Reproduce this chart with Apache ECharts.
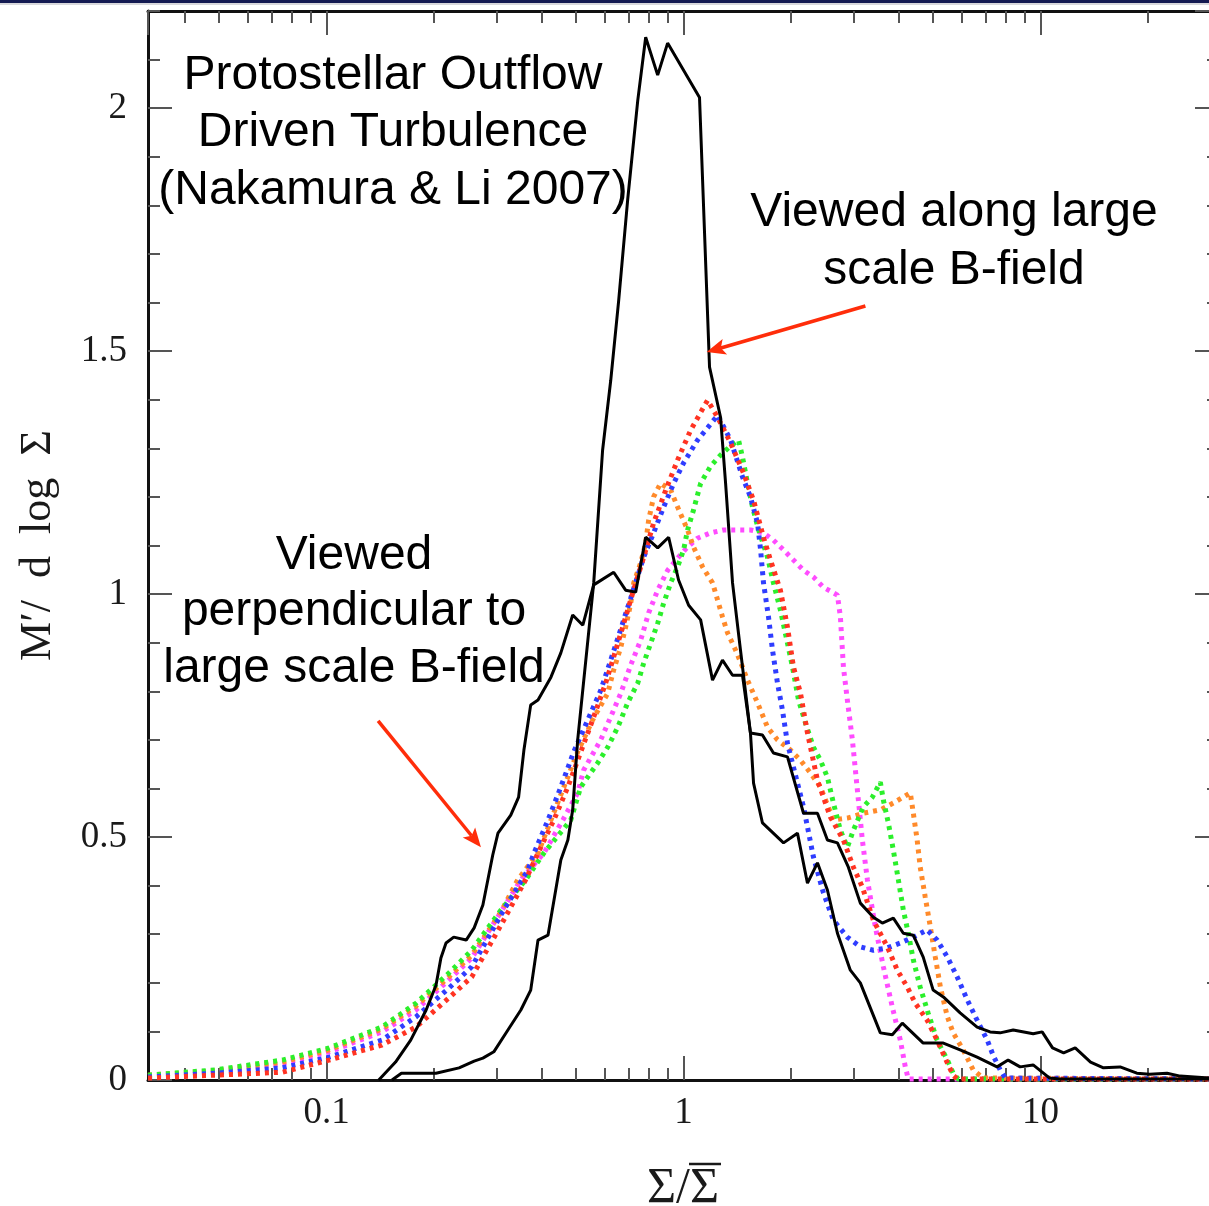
<!DOCTYPE html>
<html><head><meta charset="utf-8">
<script src="https://cdn.jsdelivr.net/npm/echarts@6/dist/echarts.min.js"></script>
<style>html,body{margin:0;padding:0;background:#fff}#c{width:1209px;height:1206px}</style>
</head><body><div id="c"></div>
<script>
// ---------- axis ranges & tick labels ----------
const X_MIN = 0.0316, X_MAX = 31.6;
const X_MAJOR_TICKS = [0.1, 1, 10];
const X_TICK_LABELS = ['0.1', '1', '10'];
const X_MINOR_TICKS = [0.04,0.05,0.06,0.07,0.08,0.09,0.2,0.3,0.4,0.5,0.6,0.7,0.8,0.9,2,3,4,5,6,7,8,9,20,30];
const Y_MIN = 0, Y_MAX = 2.2;
const Y_TICK_LABELS = ['0', '0.5', '1', '1.5', '2'];
const X_TITLE = 'Σ/Σ';
const Y_TITLE = 'M\u2032/  d  log  Σ';

// ---------- series values [Σ/Σ̄, M'/dlogΣ] ----------
const BLACK_NARROW = [[0.1525,0],[0.162,0.014],[0.2025,0.014],[0.235,0.025],[0.259,0.039],[0.274,0.045],[0.294,0.058],[0.322,0.103],[0.350,0.144],[0.373,0.185],[0.391,0.288],[0.417,0.298],[0.453,0.453],[0.474,0.494],[0.489,0.556],[0.505,0.700],[0.560,1.023],[0.593,1.296],[0.625,1.440],[0.658,1.605],[0.697,1.811],[0.744,2.016],[0.783,2.146],[0.846,2.068],[0.902,2.134],[1.108,2.022],[1.182,1.467],[1.269,1.364],[1.311,1.228],[1.371,1.023],[1.443,0.885],[1.539,0.714],[1.570,0.611],[1.663,0.529],[1.905,0.488],[2.084,0.508],[2.223,0.405],[2.371,0.447],[2.528,0.391],[2.697,0.302],[2.931,0.226],[3.126,0.200],[3.557,0.097],[3.843,0.093],[4.098,0.117],[4.69,0.076],[5.34,0.076],[5.95,0.062],[6.64,0.047],[7.55,0.027],[8.11,0.041],[8.76,0.027],[9.53,0.031],[10.6,0.004],[11.3,0.002],[31.6,0.002]];
const BLACK_WIDE = [[0.140,0],[0.156,0.037],[0.172,0.082],[0.190,0.144],[0.2025,0.195],[0.209,0.251],[0.216,0.282],[0.227,0.294],[0.246,0.288],[0.259,0.313],[0.274,0.360],[0.292,0.463],[0.302,0.508],[0.328,0.545],[0.345,0.582],[0.357,0.679],[0.373,0.772],[0.391,0.782],[0.425,0.829],[0.453,0.879],[0.489,0.957],[0.522,0.936],[0.560,1.019],[0.637,1.045],[0.688,1.008],[0.734,1.004],[0.783,1.117],[0.846,1.095],[0.908,1.117],[0.968,1.029],[1.033,0.977],[1.116,0.947],[1.205,0.823],[1.285,0.864],[1.371,0.833],[1.462,0.833],[1.539,0.714],[1.663,0.710],[1.785,0.673],[1.954,0.665],[2.167,0.549],[2.371,0.549],[2.528,0.494],[2.697,0.488],[2.894,0.438],[3.126,0.364],[3.400,0.335],[3.603,0.323],[3.868,0.333],[4.125,0.302],[4.400,0.298],[4.69,0.253],[5.00,0.185],[5.34,0.171],[5.95,0.138],[6.64,0.109],[7.22,0.099],[7.70,0.097],[8.38,0.103],[9.53,0.095],[10.1,0.099],[10.8,0.066],[11.6,0.056],[12.5,0.066],[13.8,0.037],[15.0,0.025],[16.7,0.027],[18.6,0.014],[20.2,0.012],[22.6,0.014],[24.6,0.008],[29.6,0.004],[31.6,0.004]];
const RED = [[0.0316,0.004],[0.0491,0.010],[0.0751,0.016],[0.1016,0.041],[0.1429,0.072],[0.178,0.109],[0.220,0.169],[0.255,0.212],[0.308,0.319],[0.361,0.412],[0.391,0.467],[0.433,0.535],[0.474,0.603],[0.515,0.675],[0.556,0.741],[0.605,0.817],[0.633,0.864],[0.675,0.932],[0.720,1.002],[0.773,1.076],[0.824,1.146],[0.891,1.214],[0.962,1.276],[1.046,1.337],[1.167,1.399],[1.245,1.364],[1.354,1.311],[1.472,1.249],[1.570,1.193],[1.674,1.117],[1.751,1.070],[1.867,1.008],[1.954,0.932],[2.031,0.850],[2.125,0.796],[2.223,0.714],[2.371,0.617],[2.577,0.541],[2.803,0.494],[2.989,0.438],[3.167,0.397],[3.400,0.329],[3.721,0.274],[3.969,0.226],[4.233,0.191],[4.457,0.158],[4.81,0.123],[5.13,0.082],[5.48,0.035],[5.69,0.010],[5.84,0.002],[31.6,0.002]];
const BLUE = [[0.0316,0.006],[0.0491,0.014],[0.0751,0.025],[0.1016,0.047],[0.1429,0.082],[0.178,0.130],[0.220,0.189],[0.255,0.233],[0.308,0.340],[0.366,0.432],[0.381,0.467],[0.417,0.535],[0.453,0.603],[0.492,0.675],[0.539,0.741],[0.586,0.802],[0.645,0.895],[0.711,0.992],[0.773,1.076],[0.824,1.126],[0.879,1.179],[0.938,1.228],[1.000,1.270],[1.094,1.317],[1.167,1.342],[1.245,1.368],[1.354,1.317],[1.462,1.241],[1.539,1.200],[1.611,1.146],[1.643,1.091],[1.674,1.023],[1.729,0.953],[1.774,0.885],[1.832,0.817],[1.892,0.761],[1.954,0.693],[2.084,0.611],[2.167,0.562],[2.310,0.459],[2.464,0.385],[2.628,0.329],[2.875,0.294],[3.126,0.274],[3.400,0.267],[3.721,0.272],[4.046,0.282],[4.400,0.294],[4.81,0.309],[5.13,0.288],[5.48,0.253],[5.84,0.212],[6.23,0.165],[6.64,0.123],[7.09,0.082],[7.36,0.051],[7.70,0.021],[7.96,0.004],[31.6,0.002]];
const GREEN = [[0.0316,0.010],[0.0491,0.021],[0.0751,0.041],[0.1016,0.066],[0.1429,0.109],[0.178,0.158],[0.220,0.220],[0.255,0.267],[0.308,0.350],[0.361,0.412],[0.406,0.467],[0.483,0.535],[0.515,0.603],[0.574,0.652],[0.613,0.685],[0.654,0.726],[0.697,0.776],[0.744,0.817],[0.773,0.858],[0.809,0.899],[0.846,0.940],[0.879,0.981],[0.920,1.023],[0.962,1.056],[1.000,1.091],[1.026,1.132],[1.066,1.173],[1.116,1.228],[1.190,1.263],[1.269,1.286],[1.354,1.305],[1.425,1.317],[1.462,1.282],[1.510,1.228],[1.560,1.179],[1.622,1.132],[1.718,1.076],[1.785,1.023],[1.867,0.967],[1.954,0.899],[2.018,0.850],[2.098,0.782],[2.194,0.735],[2.310,0.685],[2.417,0.658],[2.528,0.623],[2.628,0.570],[2.749,0.514],[2.875,0.479],[2.989,0.514],[3.187,0.562],[3.378,0.582],[3.557,0.613],[3.627,0.576],[3.745,0.529],[3.868,0.473],[3.995,0.412],[4.125,0.350],[4.26,0.302],[4.40,0.247],[4.60,0.191],[4.84,0.138],[5.13,0.082],[5.48,0.041],[5.69,0.014],[5.88,0.002],[31.6,0.002]];
const ORANGE = [[0.0316,0.010],[0.0491,0.019],[0.0751,0.037],[0.1016,0.062],[0.1429,0.105],[0.178,0.152],[0.220,0.212],[0.255,0.257],[0.308,0.346],[0.343,0.412],[0.391,0.467],[0.425,0.535],[0.462,0.603],[0.505,0.675],[0.556,0.741],[0.613,0.796],[0.637,0.844],[0.667,0.891],[0.688,0.932],[0.711,0.981],[0.725,1.023],[0.758,1.064],[0.783,1.105],[0.798,1.152],[0.824,1.200],[0.862,1.228],[0.920,1.214],[0.962,1.179],[1.026,1.132],[1.066,1.097],[1.130,1.056],[1.205,1.023],[1.245,0.988],[1.285,0.953],[1.328,0.920],[1.398,0.885],[1.462,0.850],[1.510,0.823],[1.611,0.776],[1.718,0.726],[1.832,0.700],[1.992,0.679],[2.125,0.658],[2.266,0.632],[2.417,0.603],[2.628,0.535],[2.875,0.539],[3.187,0.549],[3.557,0.556],[3.868,0.570],[4.315,0.591],[4.400,0.549],[4.51,0.494],[4.60,0.438],[4.75,0.377],[4.91,0.315],[5.07,0.253],[5.24,0.191],[5.48,0.130],[5.69,0.097],[6.07,0.062],[6.47,0.021],[6.90,0.004],[31.6,0.002]];
const MAGENTA = [[0.0316,0.008],[0.0491,0.016],[0.0751,0.033],[0.1016,0.058],[0.1429,0.099],[0.178,0.144],[0.220,0.206],[0.255,0.251],[0.308,0.346],[0.350,0.412],[0.406,0.467],[0.459,0.535],[0.505,0.591],[0.525,0.638],[0.586,0.700],[0.633,0.757],[0.667,0.796],[0.711,0.854],[0.758,0.905],[0.798,0.961],[0.846,1.008],[0.902,1.049],[0.968,1.076],[1.026,1.097],[1.094,1.115],[1.190,1.126],[1.294,1.132],[1.416,1.132],[1.539,1.132],[1.674,1.126],[1.785,1.111],[1.905,1.091],[2.031,1.070],[2.167,1.049],[2.310,1.035],[2.464,1.014],[2.697,0.998],[2.749,0.953],[2.803,0.850],[2.875,0.782],[2.970,0.700],[3.067,0.597],[3.167,0.494],[3.272,0.412],[3.444,0.315],[3.627,0.233],[3.843,0.150],[4.046,0.082],[4.178,0.027],[4.26,0.002],[31.6,0.002]];

// ---------- annotations ----------
const NOTES = [
  {text: 'Protostellar Outflow\nDriven Turbulence\n(Nakamura & Li 2007)', x: 393, y: 133, lh: 57.5},
  {text: 'Viewed along large\nscale B-field', x: 954, y: 242, lh: 58},
  {text: 'Viewed\nperpendicular to\nlarge scale B-field', x: 354, y: 612, lh: 56.5}
];
// arrows in data units: [from, to]
const ARROWS = [
  [[3.23, 1.593], [1.16, 1.498]],
  [[0.1394, 0.739], [0.2706, 0.479]]
];

const AXIS_COLOR = '#111', TICK_COLOR = '#555';
const serif = '"Liberation Serif", "DejaVu Serif", serif';

const chart = echarts.init(document.getElementById('c'));

function xLabel(v) {
  for (let i = 0; i < X_MAJOR_TICKS.length; i++) {
    if (Math.abs(v / X_MAJOR_TICKS[i] - 1) < 1e-6) return X_TICK_LABELS[i];
  }
  return '';
}
function yLabel(v) {
  const i = Math.round(v / 0.5);
  if (Math.abs(v - i * 0.5) < 1e-6 && i >= 0 && i < Y_TICK_LABELS.length) return Y_TICK_LABELS[i];
  return '';
}

const logMajor = (pos, labels) => ({
  type: 'log', logBase: 10, min: X_MIN, max: X_MAX, position: pos,
  axisLine: {show: true, onZero: false, lineStyle: {color: AXIS_COLOR, width: 3}},
  axisTick: {show: true, inside: true, length: 24, lineStyle: {color: TICK_COLOR, width: 2}},
  axisLabel: labels ? {show: true, formatter: xLabel, margin: 15, fontFamily: serif, fontSize: 37, color: '#1a1a1a', showMinLabel: false, showMaxLabel: false} : {show: false},
  splitLine: {show: false}, minorTick: {show: false}
});
const logMinor = (pos) => ({
  type: 'value', min: Math.log10(X_MIN), max: Math.log10(X_MAX), position: pos,
  axisLine: {show: false, onZero: false},
  axisTick: {show: true, inside: true, length: 12, lineStyle: {color: TICK_COLOR, width: 2},
             customValues: X_MINOR_TICKS.map(v => Math.log10(v))},
  axisLabel: {show: false}, splitLine: {show: false}
});
const yMajor = (pos, labels) => ({
  type: 'value', min: Y_MIN, max: Y_MAX, interval: 0.5, position: pos,
  axisLine: {show: true, onZero: false, lineStyle: {color: AXIS_COLOR, width: 3}},
  axisTick: {show: true, inside: true, length: 24, lineStyle: {color: TICK_COLOR, width: 2}},
  axisLabel: labels ? {show: true, formatter: yLabel, margin: 21, fontFamily: serif, fontSize: 37, color: '#1a1a1a', showMaxLabel: false} : {show: false},
  splitLine: {show: false}
});
const yMinor = (pos) => ({
  type: 'value', min: Y_MIN, max: Y_MAX, interval: 0.1, position: pos,
  axisLine: {show: false, onZero: false},
  axisTick: {show: true, inside: true, length: 12, lineStyle: {color: TICK_COLOR, width: 2}},
  axisLabel: {show: false}, splitLine: {show: false}
});

const xAxes = [logMajor('bottom', true), logMajor('top', false), logMinor('bottom'), logMinor('top')];
const yAxes = [yMajor('left', true), yMinor('left'), yMajor('right', false), yMinor('right')];
Object.assign(yAxes[0], {name: Y_TITLE, nameLocation: 'middle', nameGap: 88, nameRotate: 90,
  nameTextStyle: {fontFamily: serif, fontSize: 44, color: '#1a1a1a'}});

const dotted = (name, data, color) => ({
  type: 'line', name, data, xAxisIndex: 0, yAxisIndex: 0, showSymbol: false, symbol: 'none',
  silent: true, z: 2, lineStyle: {color, width: 5, type: [4, 5], cap: 'butt'}
});
const solid = (name, data) => ({
  type: 'line', name, data, xAxisIndex: 0, yAxisIndex: 0, showSymbol: false, symbol: 'none',
  silent: true, z: 3, lineStyle: {color: '#000', width: 3}
});

chart.setOption({
  animation: false,
  backgroundColor: '#fff',
  grid: {left: 148, top: 11, width: 1071, height: 1069, containLabel: false, outerBoundsMode: 'none'},
  xAxis: xAxes,
  yAxis: yAxes,
  series: [
    dotted('magenta', MAGENTA, '#ff4cff'),
    dotted('orange', ORANGE, '#ff8a2a'),
    dotted('green', GREEN, '#2bef2b'),
    dotted('blue', BLUE, '#2f3dff'),
    dotted('red', RED, '#ff3322'),
    solid('wide', BLACK_WIDE),
    solid('narrow', BLACK_NARROW)
  ]
});

// annotations, axis title and arrows
const elements = [
  {type: 'rect', shape: {x: 0, y: 0, width: 1209, height: 3}, style: {fill: '#141a52'}, z: 10},
  {type: 'rect', shape: {x: 0, y: 3, width: 1209, height: 2}, style: {fill: '#d8d8dc'}, z: 10},
  {type: 'text', x: 683, y: 1189, z: 10,
   style: {text: X_TITLE, fill: '#1a1a1a', fontSize: 50, fontFamily: serif, align: 'center', verticalAlign: 'middle'}},
  {type: 'line', z: 10, shape: {x1: 689, y1: 1164, x2: 721, y2: 1164}, style: {stroke: '#1a1a1a', lineWidth: 2.5}}
];
NOTES.forEach(n => elements.push({
  type: 'text', x: n.x, y: n.y, z: 10,
  style: {text: n.text, fill: '#000', fontSize: 48, fontFamily: '"Liberation Sans", Arial, sans-serif',
          align: 'center', verticalAlign: 'middle', lineHeight: n.lh}
}));
ARROWS.forEach(a => {
  const p0 = chart.convertToPixel({xAxisIndex: 0, yAxisIndex: 0}, a[0]);
  const p1 = chart.convertToPixel({xAxisIndex: 0, yAxisIndex: 0}, a[1]);
  const dx = p1[0] - p0[0], dy = p1[1] - p0[1];
  const len = Math.hypot(dx, dy), ux = dx / len, uy = dy / len, px = -uy, py = ux;
  const L = 19, W = 8;
  const bx = p1[0] - ux * L, by = p1[1] - uy * L;
  const nx = p1[0] - ux * L * 0.78, ny = p1[1] - uy * L * 0.78;
  elements.push({type: 'line', z: 11, shape: {x1: p0[0], y1: p0[1], x2: nx, y2: ny},
                 style: {stroke: '#ff2d0a', lineWidth: 3.5}});
  elements.push({type: 'polygon', z: 11, shape: {points: [[p1[0], p1[1]], [bx + px * W, by + py * W], [nx, ny], [bx - px * W, by - py * W]]},
                 style: {fill: '#ff2d0a'}});
});
chart.setOption({graphic: {elements}});
</script>
</body></html>
